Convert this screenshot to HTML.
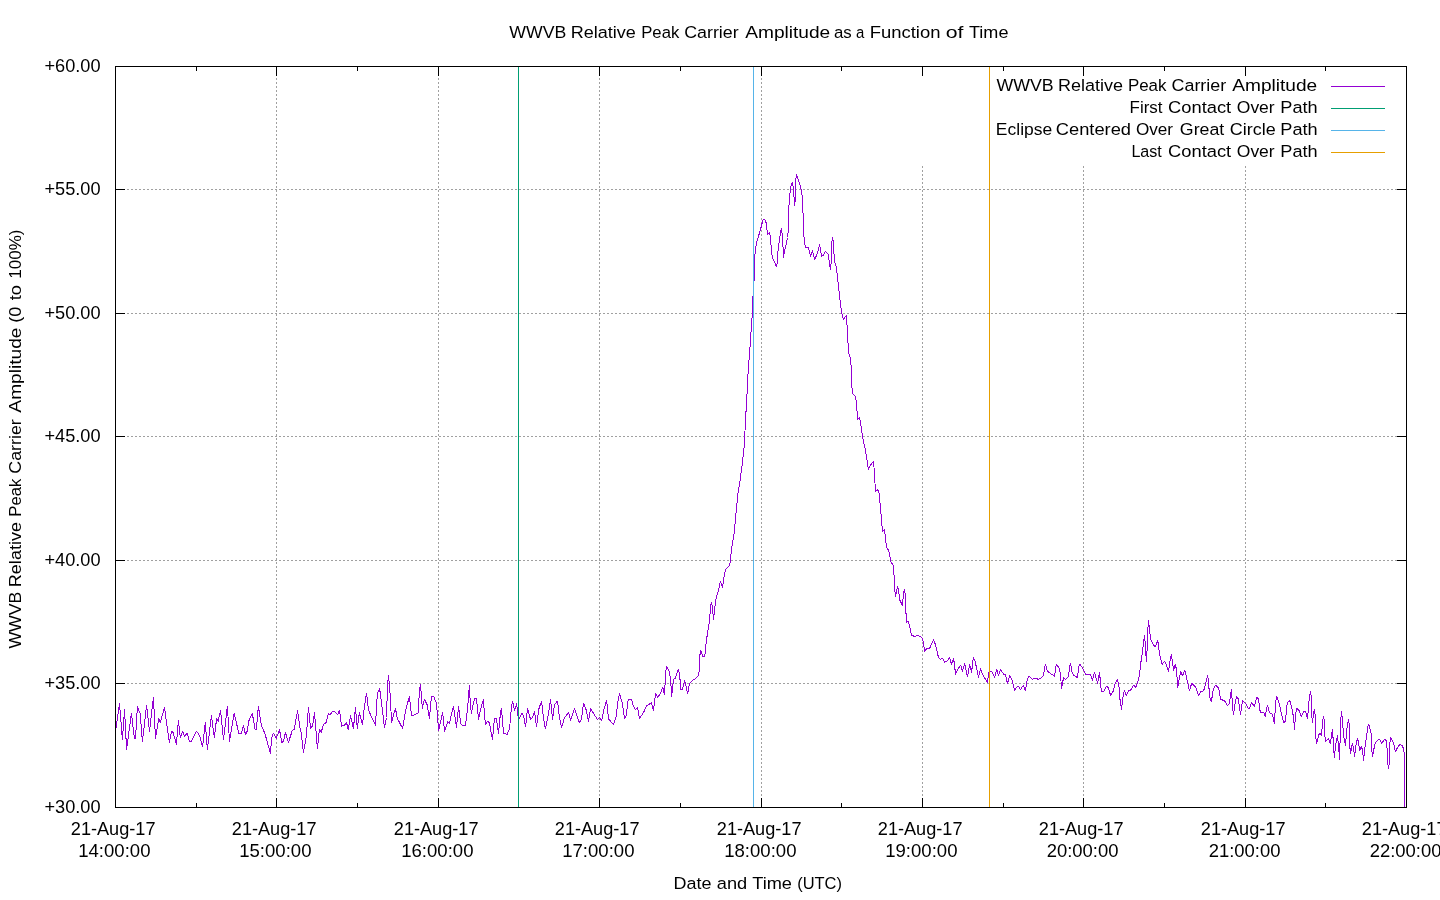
<!DOCTYPE html>
<html><head><meta charset="utf-8"><title>WWVB Relative Peak Carrier Amplitude</title>
<style>html,body{margin:0;padding:0;background:#fff;}body{width:1440px;height:900px;overflow:hidden;font-family:"Liberation Sans",sans-serif;}svg{display:block;will-change:transform;}text{font-family:"Liberation Sans",sans-serif;fill:#000;}</style>
</head><body>
<svg width="1440" height="900" viewBox="0 0 1440 900">
<rect x="0" y="0" width="1440" height="900" fill="#ffffff"/>
<g stroke="#a0a0a0" stroke-width="1" stroke-dasharray="2 2" fill="none">
<path d="M115 683.5H1407"/>
<path d="M115 560.5H1407"/>
<path d="M115 436.5H1407"/>
<path d="M115 313.5H1407"/>
<path d="M115 189.5H1407"/>
<path d="M276.5 808V66"/>
<path d="M438.5 808V66"/>
<path d="M599.5 808V66"/>
<path d="M761.5 808V66"/>
<path d="M922.5 808V166"/>
<path d="M1083.5 808V166"/>
<path d="M1245.5 808V166"/>
</g>
<g stroke="#000" stroke-width="1" fill="none">
<path d="M115.5 807.5v-9.5M115.5 66.5v9.5"/>
<path d="M196.5 807.5v-4.5M196.5 66.5v4.5"/>
<path d="M276.5 807.5v-9.5M276.5 66.5v9.5"/>
<path d="M357.5 807.5v-4.5M357.5 66.5v4.5"/>
<path d="M438.5 807.5v-9.5M438.5 66.5v9.5"/>
<path d="M518.5 807.5v-4.5M518.5 66.5v4.5"/>
<path d="M599.5 807.5v-9.5M599.5 66.5v9.5"/>
<path d="M680.5 807.5v-4.5M680.5 66.5v4.5"/>
<path d="M761.5 807.5v-9.5M761.5 66.5v9.5"/>
<path d="M841.5 807.5v-4.5M841.5 66.5v4.5"/>
<path d="M922.5 807.5v-9.5M922.5 66.5v9.5"/>
<path d="M1003.5 807.5v-4.5M1003.5 66.5v4.5"/>
<path d="M1083.5 807.5v-9.5M1083.5 66.5v9.5"/>
<path d="M1164.5 807.5v-4.5M1164.5 66.5v4.5"/>
<path d="M1245.5 807.5v-9.5M1245.5 66.5v9.5"/>
<path d="M1325.5 807.5v-4.5M1325.5 66.5v4.5"/>
<path d="M1406.5 807.5v-9.5M1406.5 66.5v9.5"/>
<path d="M115.5 807.5h9.5M1406.5 807.5h-9.5"/>
<path d="M115.5 683.5h9.5M1406.5 683.5h-9.5"/>
<path d="M115.5 560.5h9.5M1406.5 560.5h-9.5"/>
<path d="M115.5 436.5h9.5M1406.5 436.5h-9.5"/>
<path d="M115.5 313.5h9.5M1406.5 313.5h-9.5"/>
<path d="M115.5 189.5h9.5M1406.5 189.5h-9.5"/>
<path d="M115.5 66.5h9.5M1406.5 66.5h-9.5"/>
</g>
<path d="M115.5 731.7L119.5 703.3L122.4 739.6L124.5 709.6L126.6 749.6L131.4 713.3L134.5 738.8L135.5 738.8L137.4 706.2L140.3 714.2L142.4 741.7L146.6 705.4L149.5 731.2L153.4 697.3L155.5 738.3L158.7 718.8L160.3 722.1L164.5 707.5L169.3 742.5L171.6 731.2L173.2 732.5L176.4 744.6L178.4 720.4L180.3 737.5L182.6 731.2L184.5 736.2L187.4 733.3L189.5 741.7L191.2 741.7L196.6 731.2L199.5 735.4L202.6 746.7L205.3 722.5L207.4 749.6L211.4 715.4L214.3 737.5L216.6 718.8L218.2 721.2L220.5 710.4L223.5 739.6L227.4 706.2L229.5 741.7L229.4 741.7L234.2 713.3L238.8 733.3L241.3 733.3L243.4 725.4L245.5 734.6L247.6 730.4L248.4 722.5L249.7 718.3L252.3 713.3L255.1 729.6L256.3 729.6L258.4 706.2L261.3 725.0L265.1 734.2L270.5 753.8L271.5 739.2L272.6 734.2L273.8 733.3L276.3 738.3L279.5 729.6L281.8 742.5L283.4 741.2L285.5 732.5L288.4 742.5L292.2 730.8L294.2 729.2L297.6 710.4L299.7 726.7L301.3 733.3L303.4 752.5L306.3 736.7L308.4 707.1L310.5 728.3L312.6 725.8L314.5 712.1L317.4 748.8L319.4 729.6L321.3 732.1L323.4 724.2L326.3 722.5L328.4 713.3L330.1 715.0L332.6 711.2L335.5 712.1L337.6 715.0L339.5 710.4L341.5 726.2L344.2 725.4L346.5 722.5L348.3 729.6L350.5 715.4L353.4 728.8L355.5 707.5L357.3 728.8L359.4 712.5L362.5 724.6L364.4 706.7L366.5 693.3L368.6 710.4L375.5 725.4L377.3 694.2L379.6 688.3L382.5 710.8L384.4 727.5L386.5 717.5L387.5 685.0L388.6 675.4L390.5 699.2L391.5 722.5L395.4 708.3L397.3 718.3L402.6 728.5L405.7 710.4L409.4 696.2L411.5 715.0L412.8 715.7L418.2 712.9L419.4 691.2L420.5 684.2L422.3 708.3L424.4 699.2L427.3 705.0L429.4 718.8L431.5 696.2L433.6 696.2L436.5 703.3L438.6 730.8L442.6 712.3L444.6 731.7L447.6 721.7L449.4 723.3L453.4 706.2L456.5 727.5L458.6 706.2L460.7 723.8L462.3 725.4L462.5 725.4L465.4 725.4L466.7 715.4L467.9 705.0L469.4 685.4L470.4 705.8L471.5 713.3L472.5 706.7L474.6 698.3L476.5 698.3L478.5 719.6L481.2 706.7L483.5 699.2L484.6 717.5L485.7 724.6L487.5 721.2L489.3 722.5L492.5 739.6L494.4 718.3L496.4 718.3L498.5 733.8L500.4 713.3L501.5 708.3L503.5 733.3L505.4 733.3L507.1 734.6L509.6 728.3L511.5 706.2L512.5 701.2L514.6 710.4L516.7 703.3L517.7 715.4L519.2 718.8L521.7 713.3L523.5 715.4L525.6 726.7L527.5 708.3L530.6 719.6L532.5 717.5L534.6 711.2L536.5 726.7L538.8 709.2L541.5 701.2L543.6 718.3L545.4 728.8L548.5 713.3L550.6 699.2L552.5 719.6L554.6 704.2L557.5 701.2L559.6 718.3L561.5 727.5L564.6 717.5L568.6 712.5L570.6 720.4L574.6 708.3L577.5 717.5L579.5 722.7L581.4 719.6L583.5 703.3L586.4 710.4L588.5 721.7L590.6 708.3L593.5 713.3L597.5 719.6L599.5 717.5L601.7 720.7L603.5 711.2L606.6 700.2L608.5 718.8L613.5 724.6L616.4 715.4L617.5 704.2L619.5 693.2L622.5 704.2L624.5 718.5L626.0 716.2L628.3 699.3L631.4 699.3L633.5 706.2L635.6 709.6L637.5 707.5L639.5 718.5L643.5 712.5L646.4 706.2L651.4 702.5L653.5 710.4L655.6 693.2L657.5 697.5L660.6 693.2L662.7 687.1L664.5 694.6L665.6 673.3L666.4 666.2L669.6 672.5L670.6 680.0L670.6 679.2L671.6 696.7L673.5 679.2L675.6 677.9L675.4 677.9L678.3 669.6L679.6 674.6L680.4 684.2L680.6 689.6L682.5 689.6L684.6 680.4L687.7 693.5L689.6 683.3L692.5 680.4L694.6 679.2L698.5 675.7L699.6 668.3L699.6 657.5L700.6 650.4L702.7 656.2L704.6 656.2L705.7 651.2L705.7 644.2L706.7 643.3L706.7 636.7L707.8 635.4L707.8 630.0L708.8 629.2L708.8 624.2L709.8 623.3L709.8 617.5L710.4 607.1L711.5 602.1L712.5 607.1L713.5 619.6L714.6 609.2L715.6 601.7L716.5 596.2L718.6 590.4L719.6 584.2L720.4 581.2L722.5 587.7L723.6 579.2L724.6 573.3L726.4 568.3L729.6 565.4L730.6 560.4L730.6 554.2L731.7 553.3L731.7 547.5L732.8 541.7L734.2 533.3L735.8 515.0L737.0 503.3L738.0 493.3L739.7 483.3L741.7 468.3L743.3 455.0L744.2 446.7L745.0 430.8L745.8 415.0L746.7 400.0L748.3 368.3L749.7 351.7L750.8 335.0L752.0 318.3L752.8 299.2L754.3 276.7L754.3 261.2L755.4 250.4L756.4 243.3L757.5 239.2L758.5 236.2L760.4 230.0L762.5 221.7L763.5 219.2L765.4 220.4L766.5 224.2L767.5 234.6L769.4 232.5L770.4 236.7L771.5 251.7L772.5 257.5L776.5 266.7L777.5 261.7L777.5 254.6L778.6 246.2L779.6 239.2L780.4 232.5L781.4 228.3L782.5 236.7L783.5 257.5L784.6 250.4L786.5 243.3L787.5 237.5L788.5 227.9L788.5 212.5L788.5 212.5L789.6 196.2L790.6 187.5L792.5 182.1L793.5 189.2L794.6 205.8L795.4 197.5L795.4 182.5L796.5 174.2L798.5 180.4L800.7 187.5L801.7 191.7L802.5 201.2L803.3 219.2L803.6 232.5L804.6 242.9L805.7 247.5L808.5 247.5L810.6 256.7L812.5 250.4L814.6 259.6L817.5 253.3L819.6 244.2L821.5 256.5L823.3 255.4L825.4 251.2L828.3 254.6L830.4 269.6L831.5 260.4L831.5 245.4L832.5 237.1L833.6 243.3L833.6 253.3L834.6 254.6L834.6 262.5L835.6 263.3L836.7 270.4L837.7 278.8L838.6 288.3L839.6 295.4L840.6 305.8L841.7 312.9L842.5 316.7L843.6 319.6L844.6 317.1L846.7 315.4L846.7 324.6L847.7 325.4L847.7 342.5L848.6 343.3L848.6 353.3L850.5 358.3L851.3 368.3L851.7 385.0L852.7 393.7L855.5 396.3L856.7 405.0L857.5 419.2L859.5 417.5L860.5 421.7L862.5 436.7L865.0 448.3L866.7 458.3L868.3 469.2L870.0 465.8L873.3 461.3L874.2 469.2L875.0 483.3L875.5 491.3L877.5 490.0L878.6 491.2L879.6 495.0L879.6 502.5L880.7 503.8L880.7 513.8L881.5 514.6L881.5 525.4L882.5 526.7L882.5 531.7L884.6 529.2L884.6 533.3L885.6 534.6L885.6 542.5L886.7 543.3L886.7 547.5L888.5 550.4L889.6 553.8L890.6 561.7L892.5 564.2L893.6 566.2L893.6 574.6L894.6 575.4L894.6 588.8L895.6 596.7L897.5 586.2L898.5 589.6L899.6 599.6L902.5 605.4L903.5 593.3L904.6 589.2L905.6 598.3L905.6 613.3L906.5 614.2L906.5 622.5L908.3 621.2L909.4 625.0L911.4 635.0L914.6 636.5L917.5 635.4L920.4 636.5L922.5 638.3L923.5 644.2L924.6 651.2L926.5 648.8L929.6 648.3L933.6 639.6L935.4 644.6L938.5 657.5L940.4 659.2L942.5 658.3L944.6 662.3L947.5 660.8L949.6 657.5L951.5 664.2L953.6 658.3L955.6 674.2L957.5 669.6L960.7 665.4L962.5 671.2L964.6 663.5L967.5 676.7L969.6 664.6L971.7 672.5L972.5 662.5L973.6 657.5L975.4 662.5L978.5 677.5L980.6 668.3L982.5 674.2L987.5 682.5L988.6 673.3L989.6 671.5L991.7 671.5L994.6 677.5L996.7 669.6L998.6 675.4L1000.6 669.6L1003.6 674.2L1005.4 674.6L1007.5 683.5L1009.6 675.4L1011.7 679.2L1014.6 690.4L1017.5 686.2L1018.8 686.2L1020.4 689.6L1023.3 685.4L1025.4 690.7L1027.5 678.3L1029.4 676.2L1032.5 679.6L1033.8 678.3L1036.5 678.3L1038.3 679.6L1040.4 678.3L1043.6 675.4L1044.6 667.1L1045.4 664.2L1047.5 671.2L1051.5 674.2L1054.6 676.2L1055.6 667.5L1056.5 664.2L1059.6 669.2L1060.6 675.4L1061.5 688.6L1063.6 677.5L1065.4 679.6L1068.6 676.2L1069.6 667.1L1070.6 663.3L1071.7 671.2L1073.5 675.4L1077.5 677.5L1078.5 668.3L1079.6 664.2L1082.5 667.5L1085.4 674.2L1090.6 674.2L1092.5 680.4L1094.6 672.1L1097.5 683.3L1099.6 672.1L1100.6 685.4L1101.7 691.7L1103.5 691.7L1106.7 686.2L1108.6 688.3L1110.6 695.7L1113.6 690.4L1114.6 684.6L1117.5 679.2L1119.6 689.6L1119.6 696.7L1121.5 709.6L1123.3 694.4L1124.4 690.6L1126.3 695.6L1128.3 691.1L1130.6 690.3L1133.6 685.2L1135.6 687.4L1137.6 682.8L1139.4 675.6L1140.6 664.4L1141.7 656.7L1142.8 649.4L1143.7 640.6L1144.7 635.2L1145.8 653.9L1146.7 661.7L1147.6 631.7L1148.6 620.0L1149.4 629.4L1150.8 639.4L1153.0 644.1L1154.8 646.7L1155.8 645.6L1157.8 640.6L1158.9 649.4L1160.2 656.7L1162.2 664.4L1164.4 661.4L1165.8 663.3L1168.6 671.7L1170.0 660.6L1171.4 654.1L1172.4 661.7L1173.6 670.6L1175.3 664.4L1176.7 670.6L1177.6 687.8L1178.9 680.6L1180.6 671.7L1182.6 675.6L1184.8 670.2L1186.7 678.3L1188.3 685.0L1189.4 690.6L1191.7 683.3L1195.6 687.2L1198.6 695.6L1200.6 691.7L1202.8 691.1L1204.4 688.9L1207.6 675.6L1208.6 680.6L1209.4 696.1L1211.4 701.7L1213.3 688.9L1215.6 685.2L1218.7 688.3L1220.6 699.4L1224.4 700.6L1227.4 705.6L1229.4 703.9L1230.6 695.0L1231.5 689.3L1232.4 705.0L1233.4 714.6L1235.5 701.2L1236.6 696.2L1238.4 699.2L1240.5 714.6L1242.6 700.4L1245.5 703.3L1248.4 708.8L1249.5 708.3L1251.5 702.3L1254.5 706.7L1256.6 697.3L1258.6 699.2L1259.5 708.3L1260.5 712.5L1263.6 712.5L1265.5 716.7L1266.5 708.3L1267.6 705.4L1269.5 712.5L1272.6 714.6L1274.5 723.8L1275.5 703.3L1276.5 696.2L1279.5 704.2L1281.6 714.6L1283.6 722.5L1285.5 721.5L1286.6 707.5L1287.6 702.1L1289.7 700.4L1291.5 706.7L1293.6 717.5L1294.5 729.6L1295.5 715.4L1296.5 708.3L1298.6 709.6L1301.5 716.7L1303.4 711.7L1305.5 711.2L1307.6 718.6L1308.6 705.4L1309.5 696.2L1310.5 691.2L1311.6 699.2L1311.6 714.6L1312.6 722.5L1313.4 713.3L1314.5 709.2L1315.5 718.3L1315.5 734.6L1316.6 743.8L1318.6 735.4L1319.7 733.3L1321.5 735.4L1322.6 721.7L1323.6 716.2L1324.7 723.3L1324.7 734.6L1325.7 741.5L1328.6 738.5L1330.5 743.8L1331.6 733.3L1332.6 729.2L1333.3 743.3L1334.4 757.5L1335.4 746.7L1337.5 735.4L1338.6 746.7L1339.6 759.6L1340.5 723.3L1341.5 711.2L1342.5 720.8L1343.6 735.8L1345.6 745.4L1346.4 732.5L1347.5 724.6L1348.5 719.3L1349.6 728.3L1349.6 744.6L1350.6 753.8L1351.5 747.5L1352.5 743.3L1353.5 748.3L1354.6 756.7L1355.6 747.5L1356.5 741.7L1357.5 738.3L1358.5 742.5L1359.6 750.4L1361.5 746.5L1362.5 750.4L1363.6 760.7L1364.6 749.6L1365.6 742.5L1366.7 735.4L1367.5 728.3L1368.6 724.2L1370.6 730.4L1371.7 738.3L1371.7 749.6L1372.5 756.7L1374.6 745.4L1375.6 742.5L1378.5 739.2L1379.6 739.2L1381.5 743.5L1384.6 739.2L1386.5 741.2L1386.5 747.5L1387.5 748.3L1387.5 761.7L1388.5 768.8L1389.6 760.8L1389.6 745.4L1390.6 737.5L1392.5 740.4L1393.6 743.3L1395.4 751.7L1397.5 747.5L1399.6 744.6L1402.5 745.4L1403.5 749.6L1404.6 755.4L1404.6 765.0L1404.6 807.0" stroke="#9400d3" stroke-width="1" fill="none" stroke-linejoin="round" shape-rendering="crispEdges"/>
<path d="M518.5 807.5V66.5" stroke="#009e73" stroke-width="1" fill="none"/>
<path d="M753.5 807.5V66.5" stroke="#56b4e9" stroke-width="1" fill="none"/>
<path d="M989.5 807.5V66.5" stroke="#e69f00" stroke-width="1" fill="none"/>
<rect x="115.5" y="66.5" width="1291.0" height="741.0" fill="none" stroke="#000" stroke-width="1"/>
<text x="996.42" y="90.8" font-size="17.2" textLength="57.19" lengthAdjust="spacingAndGlyphs">WWVB</text>
<text x="1058.04" y="90.8" font-size="17.2" textLength="64.94" lengthAdjust="spacingAndGlyphs">Relative</text>
<text x="1127.92" y="90.8" font-size="17.2" textLength="38.56" lengthAdjust="spacingAndGlyphs">Peak</text>
<text x="1171.52" y="90.8" font-size="17.2" textLength="54.68" lengthAdjust="spacingAndGlyphs">Carrier</text>
<text x="1232.27" y="90.8" font-size="17.2" textLength="84.84" lengthAdjust="spacingAndGlyphs">Amplitude</text>
<path d="M1331 86.5H1385" stroke="#9400d3" stroke-width="1" fill="none"/>
<text x="1129.62" y="112.8" font-size="17.2" textLength="32.88" lengthAdjust="spacingAndGlyphs">First</text>
<text x="1168.09" y="112.8" font-size="17.2" textLength="63.11" lengthAdjust="spacingAndGlyphs">Contact</text>
<text x="1236.79" y="112.8" font-size="17.2" textLength="37.89" lengthAdjust="spacingAndGlyphs">Over</text>
<text x="1280.32" y="112.8" font-size="17.2" textLength="37.35" lengthAdjust="spacingAndGlyphs">Path</text>
<path d="M1331 108.5H1385" stroke="#009e73" stroke-width="1" fill="none"/>
<text x="995.88" y="134.7" font-size="17.2" textLength="56.28" lengthAdjust="spacingAndGlyphs">Eclipse</text>
<text x="1055.80" y="134.7" font-size="17.2" textLength="75.26" lengthAdjust="spacingAndGlyphs">Centered</text>
<text x="1135.90" y="134.7" font-size="17.2" textLength="37.17" lengthAdjust="spacingAndGlyphs">Over</text>
<text x="1179.82" y="134.7" font-size="17.2" textLength="44.47" lengthAdjust="spacingAndGlyphs">Great</text>
<text x="1229.81" y="134.7" font-size="17.2" textLength="45.85" lengthAdjust="spacingAndGlyphs">Circle</text>
<text x="1280.32" y="134.7" font-size="17.2" textLength="37.35" lengthAdjust="spacingAndGlyphs">Path</text>
<path d="M1331 130.5H1385" stroke="#56b4e9" stroke-width="1" fill="none"/>
<text x="1131.39" y="156.8" font-size="17.2" textLength="30.41" lengthAdjust="spacingAndGlyphs">Last</text>
<text x="1168.09" y="156.8" font-size="17.2" textLength="63.11" lengthAdjust="spacingAndGlyphs">Contact</text>
<text x="1236.79" y="156.8" font-size="17.2" textLength="37.89" lengthAdjust="spacingAndGlyphs">Over</text>
<text x="1280.32" y="156.8" font-size="17.2" textLength="37.35" lengthAdjust="spacingAndGlyphs">Path</text>
<path d="M1331 152.5H1385" stroke="#e69f00" stroke-width="1" fill="none"/>
<text x="509.32" y="38.1" font-size="17.2" textLength="56.99" lengthAdjust="spacingAndGlyphs">WWVB</text>
<text x="570.73" y="38.1" font-size="17.2" textLength="65.14" lengthAdjust="spacingAndGlyphs">Relative</text>
<text x="641.24" y="38.1" font-size="17.2" textLength="38.04" lengthAdjust="spacingAndGlyphs">Peak</text>
<text x="684.22" y="38.1" font-size="17.2" textLength="54.47" lengthAdjust="spacingAndGlyphs">Carrier</text>
<text x="745.22" y="38.1" font-size="17.2" textLength="85.00" lengthAdjust="spacingAndGlyphs">Amplitude</text>
<text x="833.99" y="38.1" font-size="17.2" textLength="17.79" lengthAdjust="spacingAndGlyphs">as</text>
<text x="856.07" y="38.1" font-size="17.2" textLength="8.32" lengthAdjust="spacingAndGlyphs">a</text>
<text x="869.70" y="38.1" font-size="17.2" textLength="70.81" lengthAdjust="spacingAndGlyphs">Function</text>
<text x="945.84" y="38.1" font-size="17.2" textLength="17.70" lengthAdjust="spacingAndGlyphs">of</text>
<text x="969.01" y="38.1" font-size="17.2" textLength="39.46" lengthAdjust="spacingAndGlyphs">Time</text>
<text x="673.54" y="889.3" font-size="17.2" textLength="37.93" lengthAdjust="spacingAndGlyphs">Date</text>
<text x="716.83" y="889.3" font-size="17.2" textLength="30.43" lengthAdjust="spacingAndGlyphs">and</text>
<text x="752.20" y="889.3" font-size="17.2" textLength="39.77" lengthAdjust="spacingAndGlyphs">Time</text>
<text x="797.19" y="889.3" font-size="17.2" textLength="44.82" lengthAdjust="spacingAndGlyphs">(UTC)</text>
<text transform="translate(20.8 648.58) rotate(-90)" x="0" y="0" font-size="17.2" textLength="56.99" lengthAdjust="spacingAndGlyphs">WWVB</text>
<text transform="translate(20.8 587.17) rotate(-90)" x="0" y="0" font-size="17.2" textLength="65.14" lengthAdjust="spacingAndGlyphs">Relative</text>
<text transform="translate(20.8 516.66) rotate(-90)" x="0" y="0" font-size="17.2" textLength="38.04" lengthAdjust="spacingAndGlyphs">Peak</text>
<text transform="translate(20.8 473.68) rotate(-90)" x="0" y="0" font-size="17.2" textLength="54.47" lengthAdjust="spacingAndGlyphs">Carrier</text>
<text transform="translate(20.8 412.63) rotate(-90)" x="0" y="0" font-size="17.2" textLength="85.05" lengthAdjust="spacingAndGlyphs">Amplitude</text>
<text transform="translate(20.8 322.80) rotate(-90)" x="0" y="0" font-size="17.2" textLength="16.00" lengthAdjust="spacingAndGlyphs">(0</text>
<text transform="translate(20.8 300.27) rotate(-90)" x="0" y="0" font-size="17.2" textLength="15.23" lengthAdjust="spacingAndGlyphs">to</text>
<text transform="translate(20.8 278.79) rotate(-90)" x="0" y="0" font-size="17.2" textLength="49.33" lengthAdjust="spacingAndGlyphs">100%)</text>
<text x="44.43" y="813.1" font-size="17.7" textLength="56.07" lengthAdjust="spacingAndGlyphs">+30.00</text>
<text x="44.43" y="689.1" font-size="17.7" textLength="56.07" lengthAdjust="spacingAndGlyphs">+35.00</text>
<text x="44.43" y="566.1" font-size="17.7" textLength="56.07" lengthAdjust="spacingAndGlyphs">+40.00</text>
<text x="44.43" y="442.1" font-size="17.7" textLength="56.07" lengthAdjust="spacingAndGlyphs">+45.00</text>
<text x="44.43" y="319.1" font-size="17.7" textLength="56.07" lengthAdjust="spacingAndGlyphs">+50.00</text>
<text x="44.43" y="195.1" font-size="17.7" textLength="56.07" lengthAdjust="spacingAndGlyphs">+55.00</text>
<text x="44.43" y="72.1" font-size="17.7" textLength="56.07" lengthAdjust="spacingAndGlyphs">+60.00</text>
<text x="70.80" y="834.8" font-size="17.7" textLength="84.69" lengthAdjust="spacingAndGlyphs">21-Aug-17</text>
<text x="78.20" y="856.8" font-size="17.7" textLength="72.31" lengthAdjust="spacingAndGlyphs">14:00:00</text>
<text x="231.80" y="834.8" font-size="17.7" textLength="84.69" lengthAdjust="spacingAndGlyphs">21-Aug-17</text>
<text x="239.20" y="856.8" font-size="17.7" textLength="72.31" lengthAdjust="spacingAndGlyphs">15:00:00</text>
<text x="393.80" y="834.8" font-size="17.7" textLength="84.69" lengthAdjust="spacingAndGlyphs">21-Aug-17</text>
<text x="401.20" y="856.8" font-size="17.7" textLength="72.31" lengthAdjust="spacingAndGlyphs">16:00:00</text>
<text x="554.80" y="834.8" font-size="17.7" textLength="84.69" lengthAdjust="spacingAndGlyphs">21-Aug-17</text>
<text x="562.20" y="856.8" font-size="17.7" textLength="72.31" lengthAdjust="spacingAndGlyphs">17:00:00</text>
<text x="716.80" y="834.8" font-size="17.7" textLength="84.69" lengthAdjust="spacingAndGlyphs">21-Aug-17</text>
<text x="724.20" y="856.8" font-size="17.7" textLength="72.31" lengthAdjust="spacingAndGlyphs">18:00:00</text>
<text x="877.80" y="834.8" font-size="17.7" textLength="84.69" lengthAdjust="spacingAndGlyphs">21-Aug-17</text>
<text x="885.20" y="856.8" font-size="17.7" textLength="72.31" lengthAdjust="spacingAndGlyphs">19:00:00</text>
<text x="1038.80" y="834.8" font-size="17.7" textLength="84.69" lengthAdjust="spacingAndGlyphs">21-Aug-17</text>
<text x="1046.69" y="856.8" font-size="17.7" textLength="71.81" lengthAdjust="spacingAndGlyphs">20:00:00</text>
<text x="1200.80" y="834.8" font-size="17.7" textLength="84.69" lengthAdjust="spacingAndGlyphs">21-Aug-17</text>
<text x="1208.69" y="856.8" font-size="17.7" textLength="71.81" lengthAdjust="spacingAndGlyphs">21:00:00</text>
<text x="1361.80" y="834.8" font-size="17.7" textLength="84.69" lengthAdjust="spacingAndGlyphs">21-Aug-17</text>
<text x="1369.69" y="856.8" font-size="17.7" textLength="71.81" lengthAdjust="spacingAndGlyphs">22:00:00</text>
</svg>
</body></html>
